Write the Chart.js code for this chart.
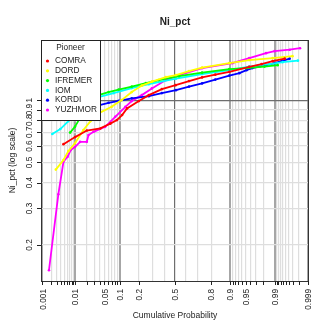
<!DOCTYPE html>
<html>
<head>
<meta charset="utf-8">
<script src="https://cdn.jsdelivr.net/npm/chart.js@4.4.0/dist/chart.umd.min.js"></script>
<style>
  body { margin: 0; background: #fff; }
  canvas { display: block; }
</style>
</head>
<body>
<canvas id="niChart" width="331" height="331"></canvas>
<script>
var pioneers = ['COMRA', 'DORD', 'IFREMER', 'IOM', 'KORDI', 'YUZHMOR'];
var colors = ['#ff0000', '#ffff00', '#00ff00', '#00ffff', '#0000ff', '#ff00ff'];

// cumulative probability / Ni_pct
var comraP = [0.0047, 0.010, 0.020, 0.041, 0.066, 0.088, 0.109, 0.132, 0.20, 0.271, 0.38, 0.506, 0.628, 0.736, 0.826, 0.897, 0.958, 0.978, 0.9885, 0.9947];
var comraV = [0.613, 0.663, 0.713, 0.730, 0.770, 0.801, 0.847, 0.912, 0.989, 1.057, 1.13, 1.181, 1.235, 1.287, 1.327, 1.369, 1.447, 1.491, 1.542, 1.585];
var dordP = [0.00276, 0.0047, 0.0065, 0.010, 0.0165, 0.0246, 0.0375, 0.070, 0.107, 0.157, 0.22, 0.295, 0.416, 0.509, 0.628, 0.736, 0.897, 0.958, 0.9885, 0.9969];
var dordV = [0.462, 0.514, 0.567, 0.621, 0.717, 0.792, 0.863, 0.928, 1.0, 1.093, 1.175, 1.228, 1.291, 1.32, 1.38, 1.435, 1.508, 1.56, 1.594, 1.63];
var ifremerP = [0.0073, 0.010, 0.0139, 0.0186, 0.0246, 0.0375, 0.061, 0.095, 0.157, 0.249, 0.354, 0.537, 0.736, 0.897, 0.952, 0.9814, 0.9916];
var ifremerV = [0.697, 0.745, 0.828, 0.915, 1.0, 1.057, 1.093, 1.124, 1.162, 1.208, 1.249, 1.305, 1.357, 1.411, 1.427, 1.451, 1.475];
var iomP = [0.00214, 0.0038, 0.0065, 0.0096, 0.0130, 0.0175, 0.0375, 0.0766, 0.157, 0.271, 0.509, 0.736, 0.897, 0.958, 0.9861, 0.9939, 0.9979];
var iomV = [0.686, 0.725, 0.792, 0.875, 0.957, 1.011, 1.034, 1.081, 1.143, 1.194, 1.27, 1.335, 1.395, 1.45, 1.491, 1.525, 1.55];
var kordiP = [0.0395, 0.061, 0.095, 0.157, 0.271, 0.38, 0.509, 0.628, 0.736, 0.826, 0.897, 0.933, 0.952, 0.964, 0.983, 0.9898, 0.9935, 0.9962];
var kordiV = [0.946, 0.971, 0.992, 1.019, 1.045, 1.081, 1.117, 1.162, 1.204, 1.256, 1.313, 1.349, 1.395, 1.427, 1.475, 1.508, 1.542, 1.585];
var yuzhP = [0.00167, 0.0033, 0.0047, 0.0062, 0.0076, 0.010, 0.0136, 0.020, 0.022, 0.029, 0.052, 0.082, 0.124, 0.157, 0.22, 0.295, 0.416, 0.509, 0.736, 0.909, 0.958, 0.983, 0.9898, 0.9962, 0.9982];
var yuzhV = [0.151, 0.351, 0.504, 0.533, 0.574, 0.595, 0.629, 0.629, 0.678, 0.703, 0.743, 0.831, 0.928, 0.989, 1.057, 1.139, 1.249, 1.305, 1.426, 1.508, 1.594, 1.685, 1.723, 1.751, 1.78];

var xLabels = [0.001, 0.01, 0.05, 0.1, 0.2, 0.5, 0.8, 0.9, 0.95, 0.99, 0.999];
var xMinor = [0.002, 0.003, 0.004, 0.005, 0.006, 0.007, 0.008, 0.009, 0.02, 0.03, 0.04, 0.05, 0.06, 0.07, 0.08, 0.09,
  0.2, 0.3, 0.4, 0.6, 0.7, 0.8, 0.91, 0.92, 0.93, 0.94, 0.95, 0.96, 0.97, 0.98,
  0.991, 0.992, 0.993, 0.994, 0.995, 0.996, 0.997, 0.998];
var xMajor = [0.001, 0.01, 0.1, 0.9, 0.99, 0.999];
var xTickMarks = [0.001, 0.002, 0.003, 0.004, 0.005, 0.006, 0.007, 0.008, 0.009, 0.01, 0.02, 0.03, 0.04, 0.05, 0.06, 0.07, 0.08, 0.09, 0.1,
  0.2, 0.5, 0.8, 0.9, 0.91, 0.92, 0.93, 0.94, 0.95, 0.96, 0.97, 0.98, 0.99, 0.991, 0.992, 0.993, 0.994, 0.995, 0.996, 0.997, 0.998, 0.999];
var yTicks = [0.2, 0.3, 0.4, 0.5, 0.6, 0.7, 0.8, 0.9, 1];

// inverse normal cdf (Acklam) for the probability axis
function qnorm(p) {
  var a = [-3.969683028665376e+01, 2.209460984245205e+02, -2.759285104469687e+02, 1.383577518672690e+02, -3.066479806614716e+01, 2.506628277459239e+00];
  var b = [-5.447609879822406e+01, 1.615858368580409e+02, -1.556989798598866e+02, 6.680131188771972e+01, -1.328068155288572e+01];
  var c = [-7.784894002430293e-03, -3.223964580411365e-01, -2.400758277161838e+00, -2.549732539343734e+00, 4.374664141464968e+00, 2.938163982698783e+00];
  var d = [7.784695709041462e-03, 3.224671290700398e-01, 2.445134137142996e+00, 3.754408661907416e+00];
  var q, r;
  if (p < 0.02425) {
    q = Math.sqrt(-2 * Math.log(p));
    return (((((c[0]*q+c[1])*q+c[2])*q+c[3])*q+c[4])*q+c[5]) / ((((d[0]*q+d[1])*q+d[2])*q+d[3])*q+1);
  }
  if (p > 1 - 0.02425) {
    q = Math.sqrt(-2 * Math.log(1 - p));
    return -(((((c[0]*q+c[1])*q+c[2])*q+c[3])*q+c[4])*q+c[5]) / ((((d[0]*q+d[1])*q+d[2])*q+d[3])*q+1);
  }
  q = p - 0.5; r = q * q;
  return (((((a[0]*r+a[1])*r+a[2])*r+a[3])*r+a[4])*r+a[5])*q / (((((b[0]*r+b[1])*r+b[2])*r+b[3])*r+b[4])*r+1);
}

function pts(P, V) {
  return P.map(function (p, i) { return { x: qnorm(p), y: V[i] }; });
}

var allP = [comraP, dordP, ifremerP, iomP, kordiP, yuzhP];
var allV = [comraV, dordV, ifremerV, iomV, kordiV, yuzhV];

var datasets = pioneers.map(function (name, i) {
  return {
    label: name,
    data: pts(allP[i], allV[i]),
    borderColor: colors[i],
    backgroundColor: colors[i],
    borderWidth: 1.8,
    pointRadius: 1.3,
    pointBorderWidth: 0,
    pointBackgroundColor: colors[i],
    tension: 0,
    fill: false
  };
});

var xGrid = xMinor.map(function (p) { return { p: p, kind: 'minor' }; })
  .concat(xMajor.map(function (p) { return { p: p, kind: 'major' }; }))
  .concat([{ p: 0.5, kind: 'mid' }]);
var yGrid = yTicks.map(function (v) { return { v: v, kind: v === 1 ? 'mid' : 'minor' }; });

function gridColor(kind) {
  if (kind === 'major') return '#a6a6a6';
  if (kind === 'mid') return '#6e6e6e';
  return '#dedede';
}
function gridWidth(kind) {
  if (kind === 'major') return 2;
  if (kind === 'mid') return 1.2;
  return 1.2;
}

var FONT = '"Liberation Sans", Arial, sans-serif';

var decorPlugin = {
  id: 'decor',
  afterDraw: function (chart) {
    var ctx = chart.ctx;
    var area = chart.chartArea;
    var xs = chart.scales.x, ys = chart.scales.y;
    ctx.save();

    // frame
    ctx.strokeStyle = '#333';
    ctx.lineWidth = 1;
    ctx.strokeRect(area.left + 0.5, area.top + 0.5, area.right - area.left - 1, area.bottom - area.top);

    // x tick marks and labels
    ctx.strokeStyle = '#222';
    ctx.beginPath();
    xTickMarks.forEach(function (p) {
      var x = Math.round(xs.getPixelForValue(qnorm(p))) + 0.5;
      ctx.moveTo(x, area.bottom);
      ctx.lineTo(x, area.bottom + 4);
    });
    ctx.stroke();
    ctx.fillStyle = '#222';
    ctx.font = '8.3px ' + FONT;
    xLabels.forEach(function (p) {
      var x = xs.getPixelForValue(qnorm(p));
      ctx.save();
      ctx.translate(x + 1, area.bottom + 8);
      ctx.rotate(-Math.PI / 2);
      ctx.textAlign = 'right';
      ctx.textBaseline = 'middle';
      ctx.fillText(String(p), 0, 0);
      ctx.restore();
    });

    // y tick marks and labels
    ctx.beginPath();
    yTicks.forEach(function (v) {
      var y = Math.round(ys.getPixelForValue(v)) + 0.5;
      ctx.moveTo(area.left - 4, y);
      ctx.lineTo(area.left, y);
    });
    ctx.stroke();
    yTicks.forEach(function (v) {
      var y = ys.getPixelForValue(v);
      ctx.save();
      ctx.translate(area.left - 11, y);
      ctx.rotate(-Math.PI / 2);
      ctx.textAlign = 'center';
      ctx.textBaseline = 'middle';
      ctx.fillText(String(v), 0, 0);
      ctx.restore();
    });

    // titles
    ctx.textAlign = 'center';
    ctx.textBaseline = 'middle';
    ctx.font = 'bold 10px ' + FONT;
    ctx.fillText('Ni_pct', (area.left + area.right) / 2, 22);
    ctx.font = '8.5px ' + FONT;
    ctx.fillText('Cumulative Probability', (area.left + area.right) / 2, 316);
    ctx.save();
    ctx.translate(13, (area.top + area.bottom) / 2);
    ctx.rotate(-Math.PI / 2);
    ctx.fillText('Ni_pct (log scale)', 0, 0);
    ctx.restore();

    // legend box
    var lx = area.left, ly = area.top, lw = 59, lh = 80;
    ctx.fillStyle = '#fff';
    ctx.fillRect(lx, ly, lw, lh);
    ctx.strokeStyle = '#222';
    ctx.strokeRect(lx + 0.5, ly + 0.5, lw, lh);
    ctx.fillStyle = '#222';
    ctx.font = '8.3px ' + FONT;
    ctx.textAlign = 'center';
    ctx.fillText('Pioneer', lx + lw / 2, ly + 8);
    ctx.textAlign = 'left';
    chart.data.datasets.forEach(function (ds, i) {
      var yy = ly + 21 + i * 9.8;
      ctx.fillStyle = ds.borderColor;
      ctx.beginPath();
      ctx.arc(lx + 6.5, yy, 1.6, 0, Math.PI * 2);
      ctx.fill();
      ctx.fillStyle = '#222';
      ctx.fillText(ds.label, lx + 14, yy);
    });
    ctx.restore();
  }
};

new Chart(document.getElementById('niChart'), {
  type: 'line',
  data: { datasets: datasets },
  options: {
    responsive: false,
    animation: false,
    devicePixelRatio: 1,
    layout: { padding: { left: 41, right: 22, top: 40, bottom: 50 } },
    plugins: { legend: { display: false }, title: { display: false }, tooltip: { enabled: false } },
    scales: {
      x: {
        type: 'linear',
        min: -3.12,
        max: 3.12,
        afterBuildTicks: function (s) { s.ticks = xGrid.map(function (g) { return { value: qnorm(g.p) }; }); },
        ticks: { display: false, autoSkip: false },
        border: { display: false },
        grid: {
          drawTicks: false,
          color: function (c) { return gridColor(xGrid[c.index] ? xGrid[c.index].kind : 'minor'); },
          lineWidth: function (c) { return gridWidth(xGrid[c.index] ? xGrid[c.index].kind : 'minor'); }
        }
      },
      y: {
        type: 'logarithmic',
        min: 0.134,
        max: 1.95,
        afterBuildTicks: function (s) { s.ticks = yGrid.map(function (g) { return { value: g.v }; }); },
        ticks: { display: false, autoSkip: false },
        border: { display: false },
        grid: {
          drawTicks: false,
          color: function (c) { return gridColor(yGrid[c.index] ? yGrid[c.index].kind : 'minor'); },
          lineWidth: function (c) { return gridWidth(yGrid[c.index] ? yGrid[c.index].kind : 'minor'); }
        }
      }
    }
  },
  plugins: [decorPlugin]
});
</script>
</body>
</html>
